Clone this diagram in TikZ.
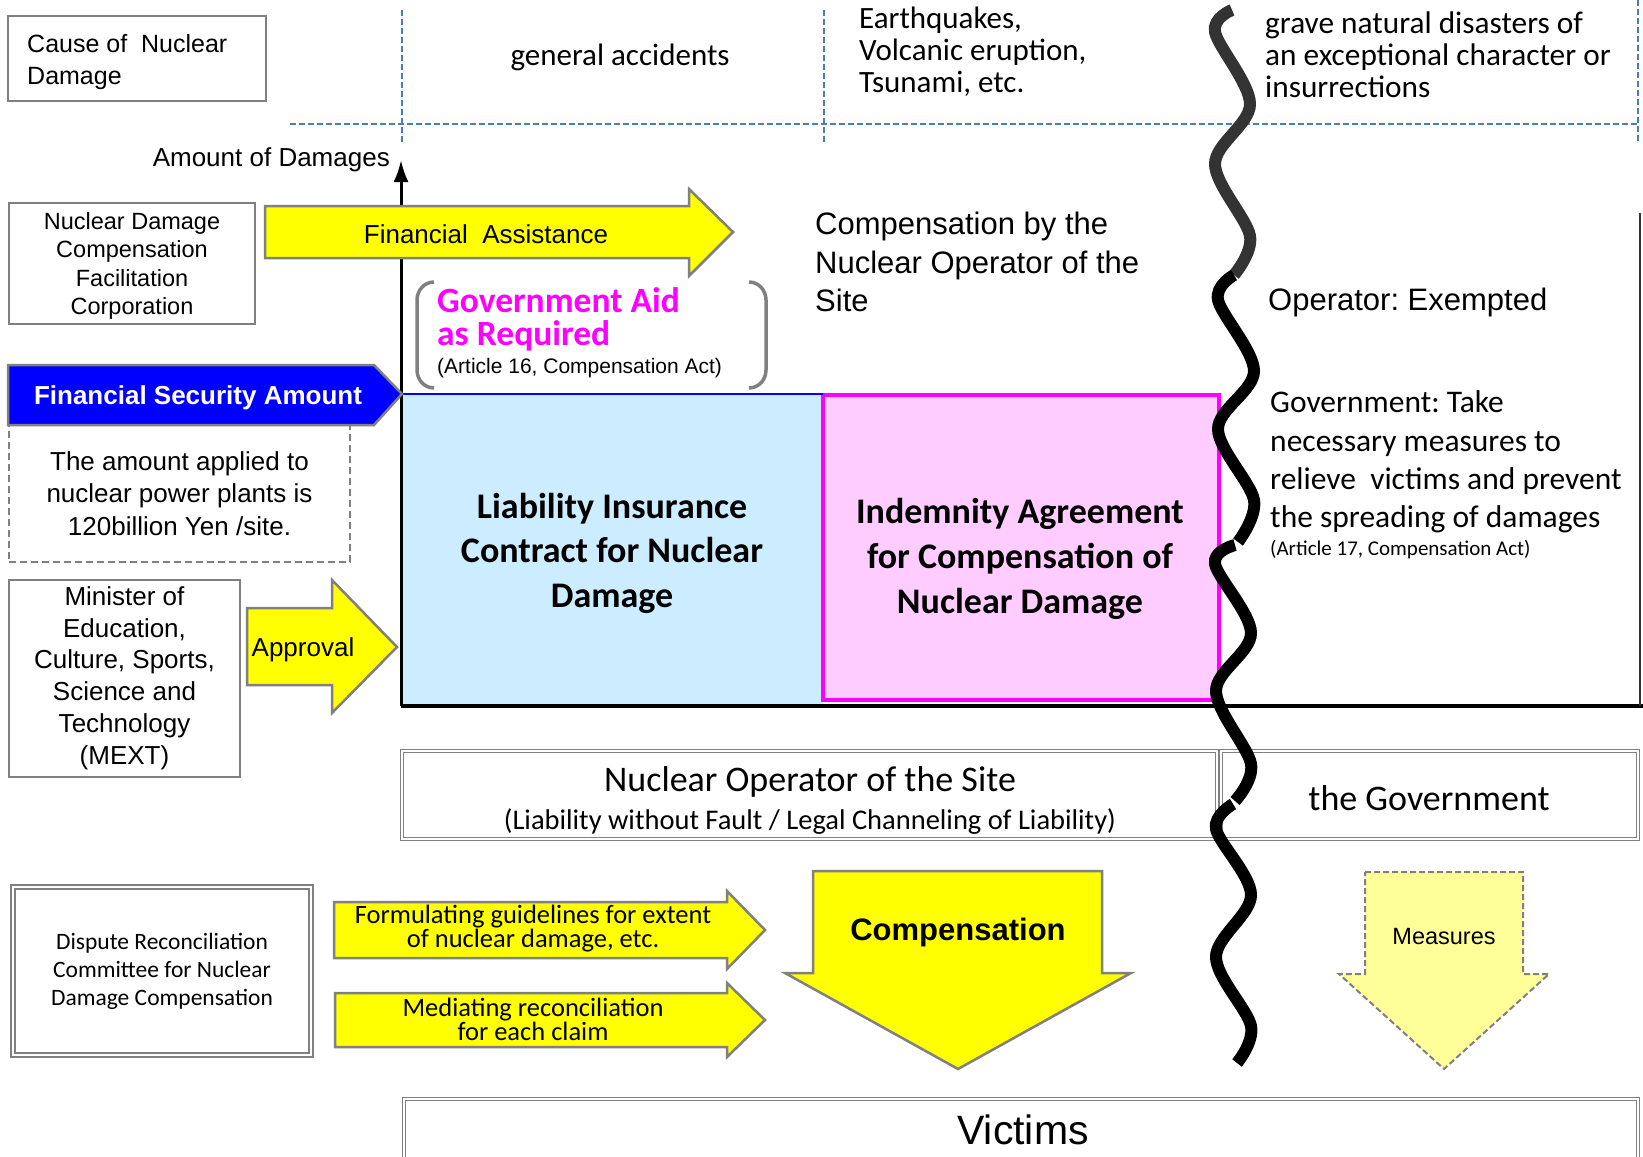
\documentclass[tikz,border=0pt]{standalone}
\usepackage{fontspec}
\setmainfont{Liberation Sans}
\newfontfamily\calfont{Carlito}
\usetikzlibrary{arrows.meta}
\definecolor{guideblue}{RGB}{74,126,187}
\definecolor{boxgray}{RGB}{128,128,128}
\definecolor{wavegray}{RGB}{51,51,51}
\definecolor{fsablue}{RGB}{0,0,255}
\definecolor{liabblue}{RGB}{204,236,255}
\definecolor{indempink}{RGB}{255,204,255}
\definecolor{brightmagenta}{RGB}{255,0,255}
\definecolor{brightyellow}{RGB}{255,255,0}
\definecolor{paleyellow}{RGB}{255,255,153}
\begin{document}
\frenchspacing
\begin{tikzpicture}[x=1pt,y=-1pt]
    \tikzstyle{every node}=[inner sep=0pt, text=black]
    \tikzstyle{box}=[draw=boxgray, line width=2pt]
    \tikzstyle{dbox}=[draw=boxgray, line width=1.2pt, double=white, double distance=2pt]
    \tikzstyle{guide}=[guideblue, line width=1.3pt, dash pattern=on 6pt off 3pt]
    \tikzstyle{blockarrow}=[fill=brightyellow, draw=boxgray, line width=2.5pt, line join=miter]
    \tikzstyle{bracket}=[boxgray, line width=3.5pt]
    \tikzstyle{wave}=[line width=12pt, line cap=butt]

    \clip (0,0) rectangle (1643,1156);
    \fill[white] (0,0) rectangle (1643,1156);

    % causes
    \node (causebox) [box, minimum width=258pt, minimum height=85pt] at (137,58.5) {};
    \node (cause) [anchor=west, align=left, font=\fontsize{25}{32}\selectfont] at (27,62) {Cause of\ \ Nuclear\\Damage};
    \draw[guide] (290,124) -- (1637,124);
    \foreach \x/\y in {402/10,824/10,1638/0}
        \draw[guide] (\x,\y) -- (\x,143);
    \node (general) [font=\calfont\fontsize{31}{32}\selectfont] at (620,57) {general accidents};
    \node (natural) [anchor=west, align=left, font=\calfont\fontsize{31}{32}\selectfont] at (859,52) {Earthquakes,\\Volcanic eruption,\\Tsunami, etc.};
    \node (grave) [anchor=west, align=left, font=\calfont\fontsize{31.3}{32}\selectfont] at (1265,55) {grave natural disasters of\\an exceptional character or\\insurrections};

    % coverage boxes
    \node (liabilitybox) [fill=liabblue, minimum width=421pt, minimum height=311pt] at (612.5,549.5) {};
    \node (indemnitybox) [fill=indempink, draw=brightmagenta, line width=4pt, minimum width=396pt, minimum height=305pt] at (1021,547.5) {};
    \draw[fsablue, line width=2pt] (liabilitybox.north west) -- (liabilitybox.north east);
    \node (liability) [align=center, font=\calfont\bfseries\fontsize{36}{44.5}\selectfont] at (612,553) {Liability Insurance\\Contract for Nuclear\\Damage};
    \node (indemnity) [align=center, font=\calfont\bfseries\fontsize{36}{45}\selectfont] at (1020,559) {Indemnity Agreement\\for Compensation of\\Nuclear Damage};

    % axes
    \coordinate (origin) at (401,706);
    \coordinate (axistop) at (401,160);
    \coordinate (axisend) at (1643,706);
    \draw[line width=3pt, -{Latex[length=22pt,width=15pt]}] (origin) -- (axistop);
    \draw[line width=3.5pt] (origin) -- (axisend);
    \draw[wavegray, line width=2.5pt] (1640,213) -- (1640,706);
    \node (amount) [anchor=east, font=\fontsize{26}{30}\selectfont] at (390,160) {Amount of Damages};

    % left column
    \node (facilitationbox) [box, minimum width=246pt, minimum height=121pt] at (132,263) {};
    \node (facilitation) [align=center, font=\fontsize{23.5}{28.5}\selectfont] at (132,266) {Nuclear Damage\\Compensation\\Facilitation\\Corporation};
    \draw[blockarrow] (265,206) -- (689,206) -- (689,189) -- (733,232) -- (689,276) -- (689,258) -- (265,258) -- cycle;
    \node (assistance) [font=\fontsize{26}{30}\selectfont] at (486,234) {Financial\ \ Assistance};

    \draw[bracket] (434,282) to[out=180,in=90] (417,300) -- (417,370) to[out=-90,in=180] (434,388);
    \draw[bracket] (749,282) to[out=0,in=90] (766,300) -- (766,370) to[out=-90,in=0] (749,388);
    \node (aid) [anchor=west, align=left, text=brightmagenta, font=\calfont\bfseries\fontsize{35.5}{33}\selectfont] at (437,319) {Government Aid\\as Required};
    \node (art16) [anchor=west, font=\fontsize{21}{24}\selectfont] at (437,368) {(Article 16, Compensation Act)};

    \draw[fill=fsablue, draw=boxgray, line width=2.5pt] (8,365) -- (374,365) -- (402,394) -- (374,425) -- (8,425) -- cycle;
    \node (fsa) [text=white, font=\bfseries\fontsize{26}{30}\selectfont] at (198,398) {Financial Security Amount};
    \node (amountbox) [draw=boxgray, line width=2pt, dash pattern=on 7pt off 4pt, minimum width=341pt, minimum height=137pt, align=center, font=\fontsize{26}{32.5}\selectfont] at (179.5,493.5) {The amount applied to\\nuclear power plants is\\120billion Yen /site.};

    \node (minister) [box, minimum width=231pt, minimum height=197pt, align=center, font=\fontsize{26}{31.8}\selectfont] at (124.5,678) {Minister of\\Education,\\Culture, Sports,\\Science and\\Technology\\(MEXT)};
    \draw[blockarrow] (247,608) -- (332,608) -- (332,580) -- (397,647) -- (332,713) -- (332,685) -- (247,685) -- cycle;
    \node (approval) [font=\fontsize{26}{30}\selectfont] at (303,650) {Approval};

    % right column
    \node (bythe) [anchor=west, align=left, font=\fontsize{31}{38.5}\selectfont] at (815,262) {Compensation by the\\Nuclear Operator of the\\Site};
    \node (exempt) [anchor=west, font=\fontsize{31}{36}\selectfont] at (1268,302) {Operator: Exempted};
    \node (govtake) [anchor=west, align=left, font=\calfont\fontsize{31.5}{38.3}\selectfont] at (1270,462) {Government: Take\\necessary measures to\\relieve\ \ victims and prevent\\the spreading of damages};
    \node (art17) [anchor=west, font=\calfont\fontsize{21}{24}\selectfont] at (1270,550) {(Article 17, Compensation Act)};

    % liable parties
    \node (operatorbox) [dbox, minimum width=815pt, minimum height=88pt] at (809.5,795) {};
    \node (operator) [font=\calfont\fontsize{36}{40}\selectfont] at (810,782) {Nuclear Operator of the Site};
    \node (channel) [font=\calfont\fontsize{28.5}{32}\selectfont] at (810,822) {(Liability without Fault / Legal Channeling of Liability)};
    \node (govbox) [dbox, minimum width=417pt, minimum height=88pt] at (1429.5,795) {};
    \node (government) [font=\calfont\fontsize{36}{40}\selectfont] at (1429,798) {the Government};

    % dispute committee
    \node (dispute) [dbox, line width=1.8pt, double distance=2.5pt, minimum width=298pt, minimum height=168pt, align=center, font=\calfont\fontsize{23.5}{28}\selectfont] at (162,971) {Dispute Reconciliation\\Committee for Nuclear\\Damage Compensation};
    \draw[blockarrow] (334,902) -- (727,902) -- (727,891) -- (765,930) -- (727,969) -- (727,958) -- (334,958) -- cycle;
    \node (guidelines) [align=center, font=\calfont\fontsize{26.5}{20}\selectfont] at (533,929) {Formulating guidelines for extent\\of nuclear damage, etc.};
    \draw[blockarrow] (335,993) -- (727,993) -- (727,983) -- (765,1020) -- (727,1057) -- (727,1047) -- (335,1047) -- cycle;
    \node (mediate) [align=center, font=\calfont\fontsize{26.5}{20}\selectfont] at (533,1019) {Mediating reconciliation\\for each claim};

    % flows to victims
    \draw[blockarrow] (813,871) -- (1102,871) -- (1102,973) -- (1131,973) -- (958,1069) -- (785,973) -- (813,973) -- cycle;
    \node (compensation) [font=\bfseries\fontsize{31}{36}\selectfont] at (958,932) {Compensation};
    \draw[fill=paleyellow, draw=boxgray, line width=2pt, dash pattern=on 6pt off 3pt] (1365,872) -- (1523,872) -- (1523,974) -- (1549,974) -- (1444,1069) -- (1339,974) -- (1365,974) -- cycle;
    \node (measures) [font=\fontsize{23.5}{28}\selectfont] at (1444,937) {Measures};
    \draw[dbox] (404,1099) rectangle (1638,1175);
    \node (victims) [font=\fontsize{41}{46}\selectfont] at (1023,1130) {Victims};

    % break line
    \draw[wave, wavegray] plot[smooth, tension=0.55] coordinates {(1232,10) (1215,32) (1250,104) (1215,164) (1250,236) (1234,275)};
    \draw[wave] plot[smooth, tension=0.55] coordinates {(1234,275) (1218,300) (1254,371) (1218,429) (1254,500) (1238,542)};
    \draw[wave] plot[smooth, tension=0.55] coordinates {(1235,545) (1215,564) (1251,633) (1216,691) (1251,764) (1235,801)};
    \draw[wave] plot[smooth, tension=0.55] coordinates {(1233,804) (1216,829) (1251,895) (1216,957) (1251,1026) (1237,1063)};
\end{tikzpicture}
\end{document}
